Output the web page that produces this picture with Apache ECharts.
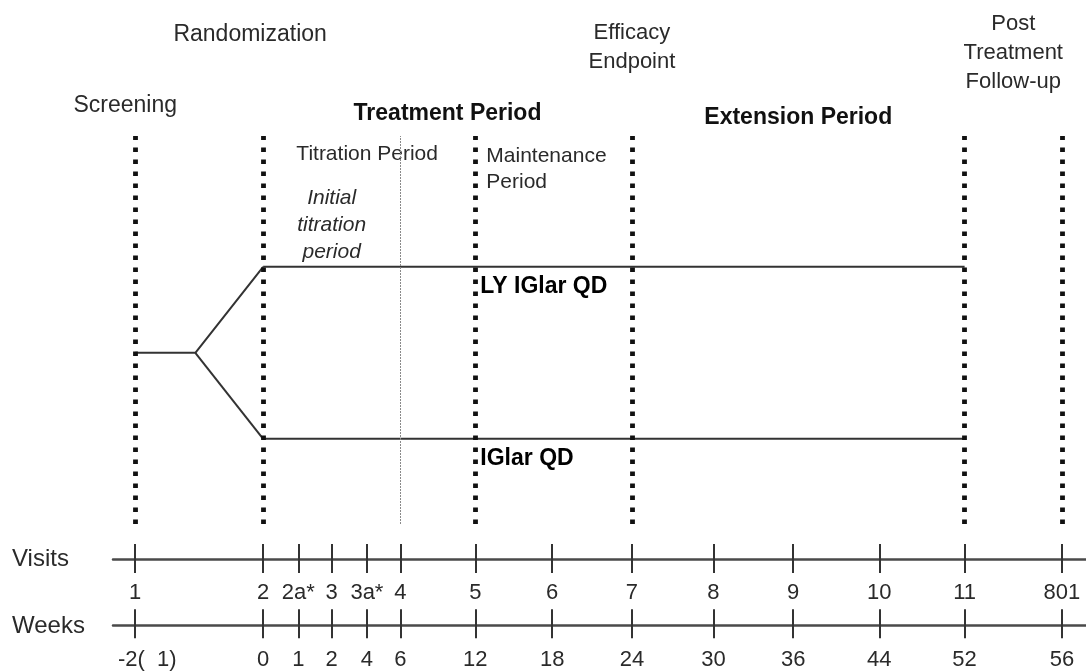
<!DOCTYPE html>
<html>
<head>
<meta charset="utf-8">
<script src="https://cdn.jsdelivr.net/npm/echarts@6/dist/echarts.min.js"></script>
<style>
html,body{margin:0;padding:0;background:#fff;}
#chart{width:1086px;height:671px;}
</style>
</head>
<body>
<div id="chart"></div>
<script>
// ---- data ----
const visitLabels = ['1','2','2a*','3','3a*','4','5','6','7','8','9','10','11','801'];
const weekLabels  = ['-2(  1)','0','1','2','4','6','12','18','24','30','36','44','52','56'];
// schematic position of each visit along the timeline (0 = visit 1, 100 = visit 801)
const visitPos    = [0, 13.8, 17.6, 21.2, 25.0, 28.6, 36.7, 45.0, 53.6, 62.4, 71.0, 80.3, 89.5, 100];
const milestoneVisits = [0, 1, 6, 8, 12, 13];   // dotted vertical lines (visit indices)
const subPhaseVisit = 5;                          // thin line at visit 4
const arms = ['LY IGlar QD', 'IGlar QD'];
const armLevel = [1, -1];
const armStartVisit = 1, armEndVisit = 12, armLabelVisit = 6;

const FONT = "'Liberation Sans', Arial, sans-serif";
const TXT = '#2a2a2a';

const chart = echarts.init(document.getElementById('chart'), null, {renderer:'canvas'});

const xRange = {min: -2.4, max: 102.6};
const splitBranch = visitPos[0] + 0.47 * (visitPos[1] - visitPos[0]);

function labelFor(list, value){
  let idx = visitPos.findIndex(v => Math.abs(v - value) < 1e-6);
  return idx < 0 ? '' : list[idx];
}

function axisPair(gridIndex, labels, margin, upLen, downLen){
  return [
    {
      gridIndex, type:'value', min:xRange.min, max:xRange.max, position:'bottom',
      axisLine:{show:true, lineStyle:{color:'#4a4a4a', width:2.5}},
      axisTick:{show:true, inside:false, length:downLen, customValues:visitPos, lineStyle:{color:'#333', width:2}},
      axisLabel:{show:true, customValues:visitPos, margin:margin, fontSize:22, fontFamily:FONT, color:TXT,
        formatter:(v)=>{ const t = labelFor(labels, v); return t.indexOf('(')>=0 ? '{p|'+t+'}' : t; },
        rich:{p:{fontSize:22, fontFamily:FONT, color:TXT, padding:[0,0,0,24]}}},
      splitLine:{show:false}
    },
    {
      gridIndex, type:'value', min:xRange.min, max:xRange.max, position:'bottom',
      axisLine:{show:false},
      axisTick:{show:true, inside:true, length:upLen, customValues:visitPos, lineStyle:{color:'#333', width:2}},
      axisLabel:{show:false},
      splitLine:{show:false}
    }
  ];
}

const option = {
  animation:false,
  backgroundColor:'#fff',
  grid:[
    {left:113, right:0, top:136, height:388},
    {left:113, right:0, top:558, height:1},
    {left:113, right:0, top:625, height:1}
  ],
  xAxis:[
    {gridIndex:0, type:'value', min:xRange.min, max:xRange.max, show:false},
    ...axisPair(1, visitLabels, 23, 15, 14),
    ...axisPair(2, weekLabels, 24, 16, 13)
  ],
  yAxis:[
    {gridIndex:0, type:'value', min:-1.99, max:2.52, show:false},
    {gridIndex:1, type:'value', show:false},
    {gridIndex:2, type:'value', show:false}
  ],
  series:[
    {
      name:'milestones', type:'line', xAxisIndex:0, yAxisIndex:0, data:[],
      markLine:{silent:true, symbol:['none','none'], label:{show:false},
        lineStyle:{type:[4.5,7.5], width:4.8, color:'#111', cap:'butt'},
        data: milestoneVisits.map(i => ({xAxis: visitPos[i]}))}
    },
    {
      name:'subphase', type:'line', xAxisIndex:0, yAxisIndex:0, data:[],
      markLine:{silent:true, symbol:['none','none'], label:{show:false},
        lineStyle:{type:[2,1], width:1, color:'#8a8a8a'},
        data: [{xAxis: visitPos[subPhaseVisit]}]}
    },
    {
      name:'screening', type:'line', xAxisIndex:0, yAxisIndex:0, showSymbol:false, silent:true,
      lineStyle:{color:'#333', width:2},
      data:[[visitPos[0],0],[splitBranch,0],[visitPos[armStartVisit],armLevel[0]]]
    },
    {
      name:'branch2', type:'line', xAxisIndex:0, yAxisIndex:0, showSymbol:false, silent:true,
      lineStyle:{color:'#333', width:2},
      data:[[splitBranch,0],[visitPos[armStartVisit],armLevel[1]]]
    },
    ...arms.map((a,k)=>({
      name:a, type:'line', xAxisIndex:0, yAxisIndex:0, showSymbol:false, silent:true,
      lineStyle:{color:'#333', width:2},
      data:[[visitPos[armStartVisit],armLevel[k]],[visitPos[armEndVisit],armLevel[k]]]
    })),
    ...arms.map((a,k)=>({
      name:a+' label', type:'scatter', xAxisIndex:0, yAxisIndex:0, symbolSize:0, silent:true,
      itemStyle:{opacity:1},
      data:[[visitPos[armLabelVisit],armLevel[k]]],
      label:{show:true, position:'right', distance:5, offset:[0,20], formatter:a, opacity:1,
        fontSize:23, fontWeight:'bold', fontFamily:FONT, color:'#000', textBorderWidth:0}
    }))
  ]
};
chart.setOption(option);

// ---- text annotations anchored to visits ----
const px = visitPos.map(v => chart.convertToPixel({xAxisIndex:0}, v));
function txt(text, x, y, opts){
  return {type:'text', silent:true, style:Object.assign({
    text, x, y, textAlign:'center', textVerticalAlign:'middle',
    font:'23px '+FONT, fill:TXT}, opts||{})};
}
chart.setOption({graphic:[
  txt('Randomization', px[1]-13, 35),
  txt('Screening', px[0]-10, 106),
  txt('Efficacy\nEndpoint', px[8], 47, {font:'22px '+FONT, lineHeight:29}),
  txt('Post\nTreatment\nFollow-up', (px[12]+px[13])/2, 53, {font:'22px '+FONT, lineHeight:29}),
  txt('Treatment Period', (px[1]+px[8])/2, 114, {font:'bold 23px '+FONT, fill:'#111'}),
  txt('Extension Period', (px[8]+px[12])/2, 118, {font:'bold 23px '+FONT, fill:'#111'}),
  txt('Titration Period', px[2]-2, 154, {textAlign:'left', font:'21px '+FONT}),
  txt('Maintenance\nPeriod', px[6]+11, 169, {textAlign:'left', font:'21px '+FONT, lineHeight:26}),
  txt('Initial\ntitration\nperiod', (px[1]+px[5])/2, 225, {font:'italic 21px '+FONT, lineHeight:27}),
  txt('Visits', 12, 559, {textAlign:'left', font:'24px '+FONT}),
  txt('Weeks', 12, 626, {textAlign:'left', font:'24px '+FONT})
]});
</script>
</body>
</html>
